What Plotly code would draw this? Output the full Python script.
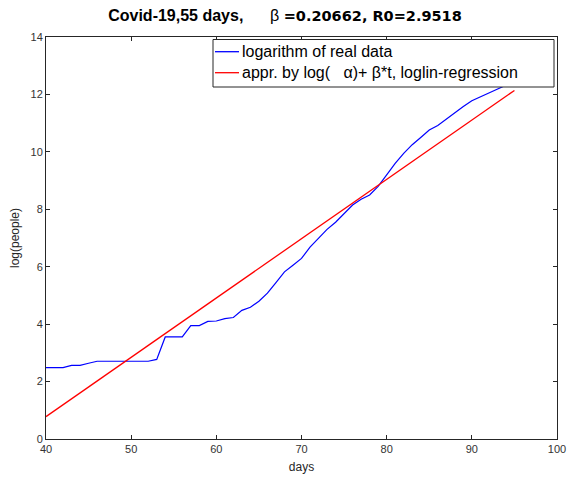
import plotly.graph_objects as go

days = list(range(40, 96))
log_real = [2.485, 2.485, 2.485, 2.565, 2.565, 2.639, 2.708, 2.708, 2.708, 2.708,
            2.708, 2.708, 2.708, 2.773, 3.555, 3.555, 3.555, 3.951, 3.951, 4.094,
            4.11, 4.19, 4.23, 4.48, 4.59, 4.80, 5.08, 5.45, 5.82, 6.05,
            6.29, 6.68, 7.00, 7.30, 7.55, 7.85, 8.15, 8.35, 8.50, 8.80,
            9.20, 9.60, 9.95, 10.25, 10.50, 10.76, 10.92, 11.15, 11.38, 11.58,
            11.78, 11.92, 12.05, 12.18, 12.32, 12.45]

fit_days = [40, 95]
fit_vals = [0.78, 12.14]

x_ticks = [40, 50, 60, 70, 80, 90, 100]
y_ticks = [0, 2, 4, 6, 8, 10, 12, 14]

NB = "\u00a0"
title_text = ("<b>Covid-19,55 days,</b>" + NB * 6 + "β" + NB +
              "<span style='font-family:DejaVu Sans;font-size:14.5px'><b>=0.20662, R0=2.9518</b></span>")
leg_names = ["logarithm of real data",
             "appr. by log(" + NB * 3 + "α)+ β*t, loglin-regression"]
leg_colors = ["#0000ff", "#ff0000"]

FONT = "Liberation Sans, Arial"

fig = go.Figure()
fig.add_trace(go.Scatter(x=days, y=log_real, mode="lines", name=leg_names[0],
                         line=dict(color=leg_colors[0], width=1.2), showlegend=False))
fig.add_trace(go.Scatter(x=fit_days, y=fit_vals, mode="lines", name=leg_names[1],
                         line=dict(color=leg_colors[1], width=1.3), showlegend=False))

axis_common = dict(showline=True, mirror="ticks", linecolor="#262626", linewidth=1,
                   ticks="inside", ticklen=4, tickcolor="#262626", showgrid=False,
                   zeroline=False, automargin=False,
                   tickfont=dict(family=FONT, size=11, color="#333333"))

# plot-area pixel geometry
L, R, T, B = 46, 557, 37, 439
def px(xp):
    return (xp - L) / (R - L)
def py(yp):
    return (B - yp) / (B - T)

# legend box (drawn manually to match the reference layout)
shapes = [dict(type="rect", xref="paper", yref="paper", layer="above",
               x0=px(213), x1=px(554), y0=py(87), y1=py(39.5),
               fillcolor="white", line=dict(color="#262626", width=1))]
annotations = []
row_y = [51.7, 72.7]
for name, col, ry in zip(leg_names, leg_colors, row_y):
    shapes.append(dict(type="line", xref="paper", yref="paper", layer="above",
                       x0=px(215), x1=px(239), y0=py(ry), y1=py(ry),
                       line=dict(color=col, width=1.3)))
    annotations.append(dict(text=name, xref="paper", yref="paper", x=px(239.5), y=py(ry),
                            xanchor="left", yanchor="middle", showarrow=False,
                            font=dict(family=FONT, size=16, color="black")))

fig.update_layout(
    width=570, height=480,
    margin=dict(l=L, r=570 - R, t=T, b=480 - B),
    paper_bgcolor="white", plot_bgcolor="white",
    title=dict(text=title_text, x=0.5, xanchor="center", y=0.968, yanchor="middle",
               font=dict(family=FONT, size=16, color="black")),
    xaxis=dict(range=[40, 100], tickvals=x_ticks,
               title=dict(text="days", standoff=8, font=dict(family=FONT, size=12, color="#262626")),
               **axis_common),
    yaxis=dict(range=[0, 14], tickvals=y_ticks,
               title=dict(text="log(people)", standoff=8, font=dict(family=FONT, size=12, color="#262626")),
               **axis_common),
    showlegend=False,
    shapes=shapes,
    annotations=annotations,
)

fig.write_html("out.html")
